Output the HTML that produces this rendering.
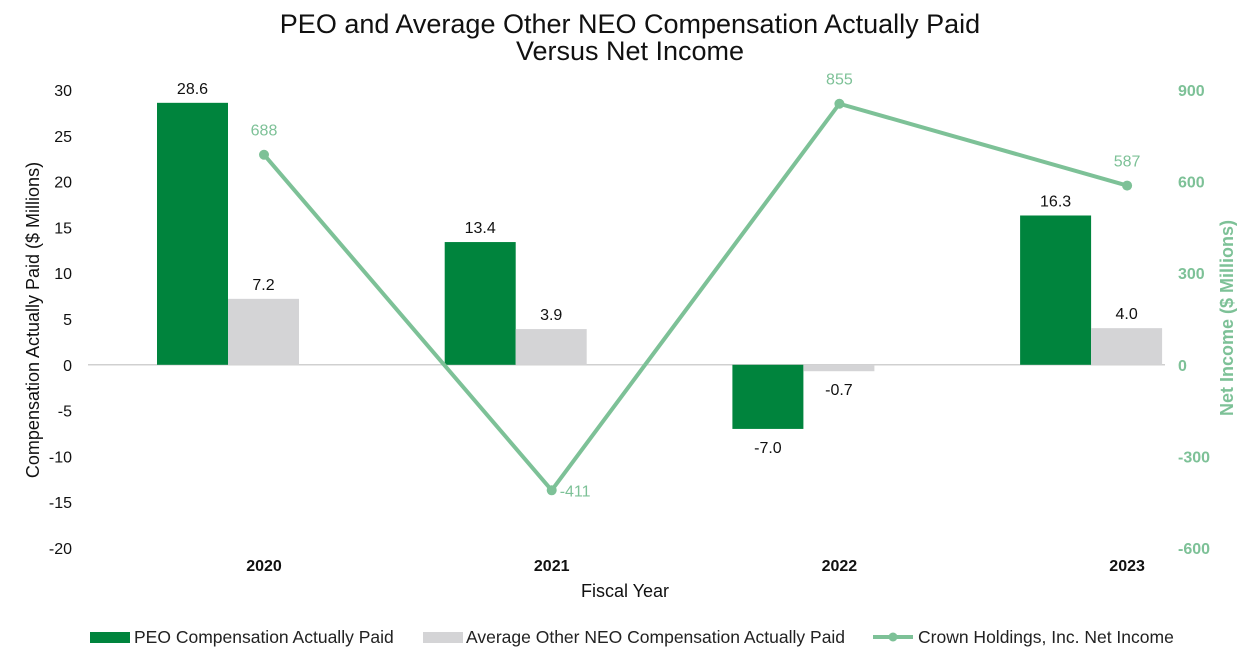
<!DOCTYPE html>
<html><head><meta charset="utf-8"><style>
body{margin:0;background:#fff;font-family:"Liberation Sans",sans-serif;}
svg text{font-family:"Liberation Sans",sans-serif;}
</style></head><body>
<svg id="c" width="1259" height="662" xmlns="http://www.w3.org/2000/svg">
<text x="630" y="33" font-size="27" text-anchor="middle" fill="#111">PEO and Average Other NEO Compensation Actually Paid</text>
<text x="630" y="60" font-size="27" text-anchor="middle" fill="#111">Versus Net Income</text>
<text transform="translate(39,320) rotate(-90)" font-size="18" text-anchor="middle" fill="#111">Compensation Actually Paid ($ Millions)</text>
<text transform="translate(1233,318) rotate(-90)" font-size="18" font-weight="bold" text-anchor="middle" fill="#7dc197">Net Income ($ Millions)</text>
<text x="625" y="597" font-size="18" text-anchor="middle" fill="#111">Fiscal Year</text>
<g id="axes"></g><g id="bars"></g><g id="line"></g>
<g>
<rect x="90" y="632" width="40" height="11" fill="#00843d"/>
<text x="134" y="643" font-size="17.5" fill="#222">PEO Compensation Actually Paid</text>
<rect x="423" y="632" width="40" height="11" fill="#d4d4d6"/>
<text x="466" y="643" font-size="17.5" fill="#222">Average Other NEO Compensation Actually Paid</text>
<line x1="873" y1="637" x2="913" y2="637" stroke="#7dc197" stroke-width="4"/>
<circle cx="893" cy="637" r="4.5" fill="#7dc197"/>
<text x="918" y="643" font-size="17.5" fill="#222">Crown Holdings, Inc. Net Income</text>
</g>
</svg>
<script>
const categories=["2020","2021","2022","2023"];
const peoValues=[28.6,13.4,-7.0,16.3];
const neoValues=[7.2,3.9,-0.7,4.0];
const netIncome=[688,-411,855,587];
const leftTicks=[30,25,20,15,10,5,0,-5,-10,-15,-20];
const rightTicks=[900,600,300,0,-300,-600];
const NS="http://www.w3.org/2000/svg";
function yL(v){return 90+(30-v)*(458/50);}
function yR(v){return 90+(900-v)*(458/1500);}
function xC(i){return 264+i*287.7;}
function mk(t,a,p,txt){const e=document.createElementNS(NS,t);for(const k in a)e.setAttribute(k,a[k]);if(txt!==undefined)e.textContent=txt;document.getElementById(p).appendChild(e);return e;}
leftTicks.forEach(v=>{const e=mk("text",{x:72,y:yL(v)+6,"font-size":16,"text-anchor":"end",fill:"#111"},"axes",String(v));

});
rightTicks.forEach(v=>{const e=mk("text",{x:1178,y:yR(v)+6,"font-size":16,"font-weight":"bold",fill:"#7dc197"},"axes",String(v));

});
const zl=mk("line",{x1:88,x2:1165,y1:yL(0),y2:yL(0),stroke:"#d0d0d0","stroke-width":1.5},"axes");


categories.forEach((c,i)=>{const e=mk("text",{x:xC(i),y:571,"font-size":16,"font-weight":"bold","text-anchor":"middle",fill:"#111"},"axes",c);

});
function bar(v,x,col,name){const y0=yL(0),y=yL(v);
const r=mk("rect",{x:x,y:Math.min(y,y0),width:71,height:Math.abs(y-y0),fill:col},"bars");


const ly=v>=0?y-9:y+24;
const t=mk("text",{x:x+35.5,y:ly,"font-size":16,"text-anchor":"middle",fill:"#111"},"bars",v.toFixed(1));

}
categories.forEach((c,i)=>{bar(peoValues[i],xC(i)-107,"#00843d","bar-peo-"+c);bar(neoValues[i],xC(i)-36,"#d4d4d6","bar-neo-"+c);});
const pts=netIncome.map((v,i)=>xC(i)+","+yR(v)).join(" ");
const pl=mk("polyline",{points:pts,fill:"none",stroke:"#7dc197","stroke-width":4},"line");


netIncome.forEach((v,i)=>{const p=mk("circle",{cx:xC(i),cy:yR(v),r:5,fill:"#7dc197"},"line");


const t=v>=0?mk("text",{x:xC(i),y:yR(v)-19,"font-size":16,"text-anchor":"middle",fill:"#7dc197"},"line",String(v)):mk("text",{x:xC(i)+8,y:yR(v)+6,"font-size":16,fill:"#7dc197"},"line",String(v));

});
</script>
</body></html>
